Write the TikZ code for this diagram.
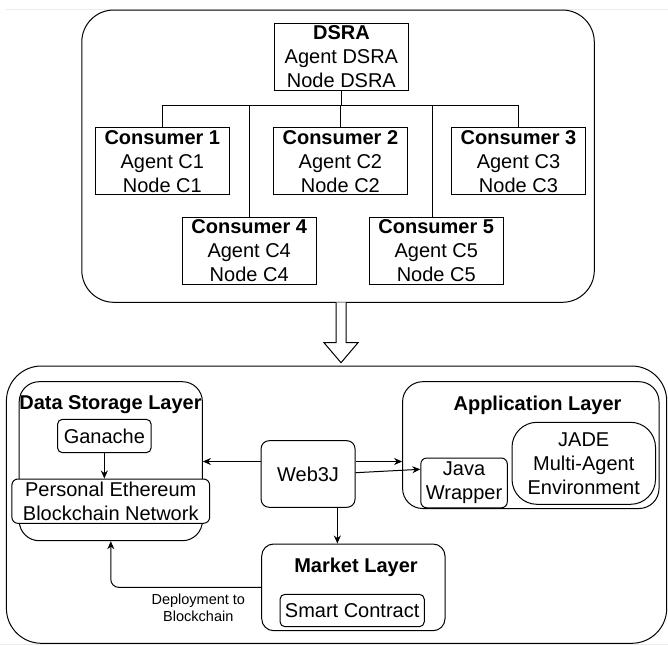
\documentclass[tikz,border=0pt]{standalone}
\usepackage{fontspec}
\setmainfont{Liberation Sans}
\usetikzlibrary{arrows.meta,calc}
\begin{document}
\begin{tikzpicture}[x=1pt,y=-1pt,
  box/.style={draw, line width=1pt, inner sep=0pt, align=center, font=\fontsize{20}{24}\selectfont},
  ttl/.style={inner sep=0pt, align=center, font=\fontsize{20}{24}\selectfont\bfseries},
  arr/.style={-{Stealth[length=8pt,width=7pt]}, line width=1pt},
  ln/.style={line width=1pt}]
\useasboundingbox (0,0) rectangle (668,645);
% faint page artefact lines
\draw[black!8, line width=0.8pt] (6,9.5) -- (668,9.5);
\draw[black!8, line width=0.8pt] (0,644) -- (668,644);
% top group
\node[box, rounded corners=32pt, minimum width=512.5pt, minimum height=292.3pt] (top) at (338.05,156.15) {};
\node[box, minimum width=133.2pt, minimum height=67.4pt] (dsra) at (341.4,57) {\textbf{DSRA}\\Agent DSRA\\Node DSRA};
\node[box, minimum width=133.8pt, minimum height=67pt] (c1) at (162.3,161.2) {\textbf{Consumer 1}\\Agent C1\\Node C1};
\node[box, minimum width=133.8pt, minimum height=67pt] (c2) at (340.4,161.2) {\textbf{Consumer 2}\\Agent C2\\Node C2};
\node[box, minimum width=133.7pt, minimum height=67pt] (c3) at (518.45,161.2) {\textbf{Consumer 3}\\Agent C3\\Node C3};
\node[box, minimum width=133.8pt, minimum height=67pt] (c4) at (249.2,250.5) {\textbf{Consumer 4}\\Agent C4\\Node C4};
\node[box, minimum width=133.7pt, minimum height=67pt] (c5) at (436.25,250.5) {\textbf{Consumer 5}\\Agent C5\\Node C5};
\coordinate (bus) at (0,105);
\draw[ln] (dsra.south) -- (dsra.south |- bus);
\draw[ln] (c1.north) -- (c1.north |- bus) -| (c3.north);
\draw[ln] (c2.north) -- (c2.north |- bus);
\draw[ln] (c4.north) -- (c4.north |- bus);
\draw[ln] ([xshift=-3.5pt]c5.north) -- ([xshift=-3.5pt]c5.north |- bus);
% bottom group
\node[box, rounded corners=35pt, minimum width=660.3pt, minimum height=277.3pt] (bot) at (336.55,504.65) {};
% hollow arrow
\coordinate (ha) at (341,302.3);
\draw[line width=1pt, fill=white] (ha) ++(-5,0) -- ++(0,40.4) -- ++(-12,0) -- (341,362.7) -- (358,342.7) -- ++(-12,0) -- (346,302.3);
% data storage layer
\node[box, rounded corners=20pt, minimum width=183.2pt, minimum height=159pt] (dsl) at (110.8,461.2) {};
\node[ttl] (dslt) at (110.5,405) {Data Storage Layer};
\node[box, rounded corners=5pt, minimum width=93.7pt, minimum height=33.4pt] (ganache) at (104.35,436) {Ganache};
\node[box, rounded corners=6pt, fill=white, minimum width=197.7pt, minimum height=44.3pt] (pebn) at (110.75,501.15) {Personal Ethereum\\Blockchain Network};
% web3j
\node[box, rounded corners=8pt, minimum width=93.9pt, minimum height=66.6pt] (web3j) at (308.05,474) {Web3J};
% application layer
\node[box, rounded corners=20pt, minimum width=256.4pt, minimum height=126.8pt] (app) at (530.8,445.1) {};
\node[ttl] (appt) at (537.5,405) {Application Layer};
\node[box, rounded corners=25pt, minimum width=143.5pt, minimum height=82pt] (jade) at (583.75,463.3) {JADE\\Multi-Agent\\Environment};
\node[box, rounded corners=6pt, fill=white, minimum width=86.5pt, minimum height=49.8pt] (java) at (464.05,482.9) {Java\\Wrapper};
% market layer
\node[box, rounded corners=12pt, minimum width=183.3pt, minimum height=86.7pt] (market) at (353.35,587.35) {};
\node[ttl] (markett) at (356,567.3) {Market Layer};
\node[box, rounded corners=5pt, minimum width=144.3pt, minimum height=32.4pt] (smart) at (352.15,610.5) {Smart Contract};
% connectors
\draw[arr] (ganache.south) -- (ganache.south |- pebn.north);
\draw[arr] ([yshift=12.5pt]web3j.west) -- ([yshift=12.5pt]web3j.west -| dsl.east);
\draw[arr] ([yshift=12.5pt]web3j.east) -- ([yshift=12.5pt]web3j.east -| app.west);
\draw[arr] ([yshift=1.3pt]web3j.east) -- ([yshift=13.6pt]java.west);
\draw[arr] ([xshift=29.3pt]web3j.south) -- ([xshift=29.3pt]web3j.south |- market.north);
\draw[arr, rounded corners=8pt] (market.west) -| (dsl.south);
\node[inner sep=0pt, align=center, font=\fontsize{14.5}{17.4}\selectfont] (deplbl) at (198.3,608) {Deployment to\\Blockchain};
\end{tikzpicture}
\end{document}
